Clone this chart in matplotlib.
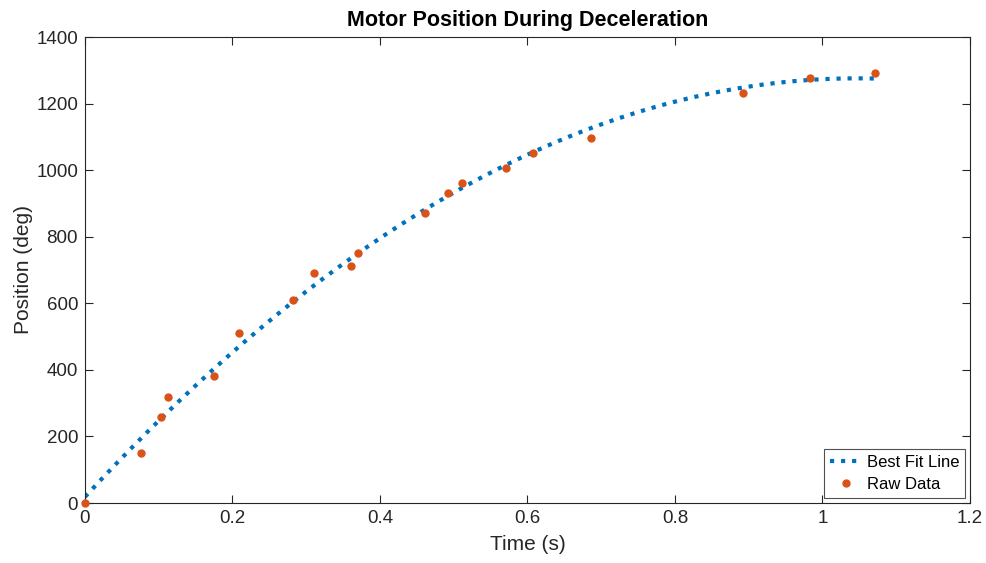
import numpy as np
import matplotlib
matplotlib.use("Agg")
import matplotlib.pyplot as plt

plt.rcParams['font.family'] = ['Liberation Sans', 'DejaVu Sans']

# Raw data
time_s = [0.0, 0.076, 0.103, 0.113, 0.175, 0.209, 0.282, 0.310, 0.361, 0.370,
          0.461, 0.492, 0.511, 0.571, 0.607, 0.686, 0.892, 0.983, 1.071]
position_deg = [0, 150, 258, 318, 381, 511, 610, 691, 712, 751,
                871, 931, 961, 1006, 1051, 1096, 1232, 1277, 1292]

x_ticks = [0, 0.2, 0.4, 0.6, 0.8, 1, 1.2]
x_tick_labels = ['0', '0.2', '0.4', '0.6', '0.8', '1', '1.2']
y_ticks = [0, 200, 400, 600, 800, 1000, 1200, 1400]

t = np.array(time_s)
p = np.array(position_deg)
coef = np.polyfit(t, p, 2)
t_fit = np.linspace(0, t.max(), 200)
p_fit = np.polyval(coef, t_fit)

fig = plt.figure(figsize=(9.87, 5.63), dpi=100)
ax = fig.add_axes([85/987, 1-503/563, (970-85)/987, (503-37)/563])

axc = (0.15, 0.15, 0.15)
ax.plot(t_fit, p_fit, linestyle=':', color=(0, 0.447, 0.741), linewidth=3,
        label='Best Fit Line')
ax.plot(t, p, 'o', color=(0.85, 0.325, 0.098), markersize=5, label='Raw Data',
        linestyle='none', clip_on=False, zorder=5)

ax.set_xlim(0, 1.2)
ax.set_ylim(0, 1400)
ax.set_xticks(x_ticks)
ax.set_xticklabels(x_tick_labels)
ax.set_yticks(y_ticks)
ax.tick_params(direction='in', top=True, right=True, length=6, width=0.8,
               colors=axc, labelsize=13.5, pad=5)
for s in ax.spines.values():
    s.set_color(axc)
    s.set_linewidth(0.8)

ax.set_xlabel('Time (s)', fontsize=15, color=axc, labelpad=6)
ax.set_ylabel('Position (deg)', fontsize=15, color=axc, labelpad=2)
ax.set_title('Motor Position During Deceleration', fontsize=15.5, fontweight='bold',
             color='black', pad=8)

leg = ax.legend(loc='lower right', fontsize=12, frameon=True, fancybox=False,
                edgecolor=axc, borderpad=0.35, handlelength=1.9, handletextpad=0.3,
                labelspacing=0.45, borderaxespad=0.3)
leg.get_frame().set_linewidth(0.8)

fig.savefig('out.png', dpi=100)
